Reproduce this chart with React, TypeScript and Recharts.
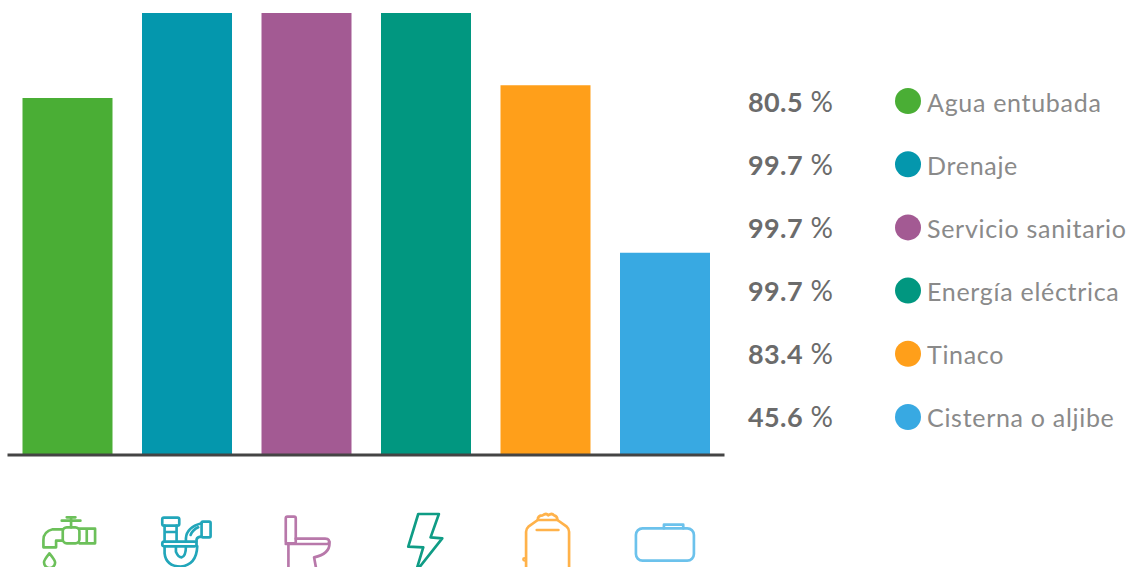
import React from "react";
import { BarChart, Bar, XAxis, YAxis, Cell } from "recharts";

const categories = ["Agua entubada", "Drenaje", "Servicio sanitario", "Energía eléctrica", "Tinaco", "Cisterna o aljibe"];
const values = [80.5, 99.7, 99.7, 99.7, 83.4, 45.6];
const colors = ["#4AAE35", "#0497AD", "#A35A93", "#019780", "#FF9F1A", "#38A9E2"];
const iconColors = ["#6CC05A", "#22A6BA", "#B878AA", "#0F9C85", "#FFB24A", "#6CC2EC"];
const rows = categories.map((name, i) => ({ name, value: values[i] }));

const FONT = "Lato, 'Open Sans', sans-serif";

function Icon({ index }: { index: number }) {
  switch (index) {
    case 0:
      return (
        <g transform="translate(-203 0)">
          <path d="M185 242H241M200 232H226M213 232V262" />
          <rect x="188" y="262" width="50" height="48" rx="12" />
          <path d="M238 266H285V310H238M260 266V310" />
          <path d="M188 268H158Q130 275 130 300V322H168V302H188" />
          <path d="M148 340Q130 362 132 368A16 16 0 0 0 165 368Q166 362 148 340Z" />
        </g>
      );
    case 1:
      return (
        <g transform="translate(-562 0)">
          <rect x="487" y="233" width="51" height="24" rx="5" />
          <path d="M494 257V305M530 257V305M494 276H530" />
          <rect x="487" y="305" width="103" height="14" rx="6" />
          <path d="M494 319V340Q498 378 542 380Q590 375 592 319M528 319V335Q535 352 545 352Q558 350 558 319" />
          <path d="M558 305V295Q560 262 605 250M590 305V298Q592 290 605 290" />
          <rect x="605" y="245" width="27" height="47" rx="4" />
          <path d="M572 285Q578 270 595 262" />
        </g>
      );
    case 2:
      return (
        <g transform="translate(-920 0)">
          <rect x="857" y="230" width="30" height="80" rx="5" />
          <path d="M857 312H985Q992 296 975 296H887" />
          <path d="M988 305Q992 342 942 352L948 385M865 315V385" />
        </g>
      );
    case 3:
      return (
        <g transform="translate(-169 0)">
          <path d="M145 222H207L182 292L217 295L138 395L160 322L115 320Z" />
        </g>
      );
    case 4:
      return (
        <g transform="translate(-527 0)">
          <path d="M503 240Q503 226 518 226Q528 218 535 226Q545 218 552 226Q562 228 562 240Z" />
          <path d="M503 240L475 260Q468 266 468 275V385M562 240L590 260Q597 266 597 275V385" />
          <path d="M500 270H565" />
          <circle cx="463" cy="358" r="3" />
        </g>
      );
    default:
      return (
        <g transform="translate(-886 0)">
          <rect x="798" y="265" width="174" height="97" rx="20" />
          <path d="M882 265V254H940V265" />
        </g>
      );
  }
}

function IconTick(props: any) {
  const { x, y, index } = props;
  return (
    <g
      transform={`translate(${x + 0.5} ${y - 15}) scale(0.3333)`}
      fill="none"
      stroke={iconColors[index]}
      strokeWidth={8}
      strokeLinejoin="round"
      strokeLinecap="round"
      style={{ filter: "blur(0.5px)" }}
    >
      <Icon index={index} />
    </g>
  );
}

export default function App() {
  return (
    <div style={{ position: "absolute", left: 0, top: 0, width: 1129, height: 567, overflow: "hidden", background: "#fff" }}>
      <BarChart
        width={1129}
        height={567}
        data={rows}
        margin={{ top: 13, right: 404.5, bottom: 0, left: 7.5 }}
        barSize={90}
      >
        <YAxis hide domain={[0, 99.7]} />
        <XAxis
          dataKey="name"
          height={112}
          interval={0}
          axisLine={{ stroke: "#444444", strokeWidth: 3 }}
          tickLine={false}
          tickSize={0}
          tickMargin={0}
          tick={<IconTick />}
        />
        <Bar dataKey="value" isAnimationActive={false}>
          {rows.map((r, i) => (
            <Cell key={r.name} fill={colors[i]} />
          ))}
        </Bar>
        {rows.map((r, i) => (
          <g key={r.name} fontFamily={FONT}>
            <text x={748} y={112 + 63 * i} fontSize={27} letterSpacing={0.4} fill="#6B6B6B">
              <tspan fontWeight={700}>{r.value.toFixed(1)}</tspan>
              <tspan fontWeight={400} fontSize={28}> %</tspan>
            </text>
            <circle cx={908} cy={101 + 63.2 * i} r={13} fill={colors[i]} />
            <text x={927} y={112 + 63 * i} fontSize={25} letterSpacing={0.7} fill="#8A8A8A">
              {r.name}
            </text>
          </g>
        ))}
      </BarChart>
    </div>
  );
}
